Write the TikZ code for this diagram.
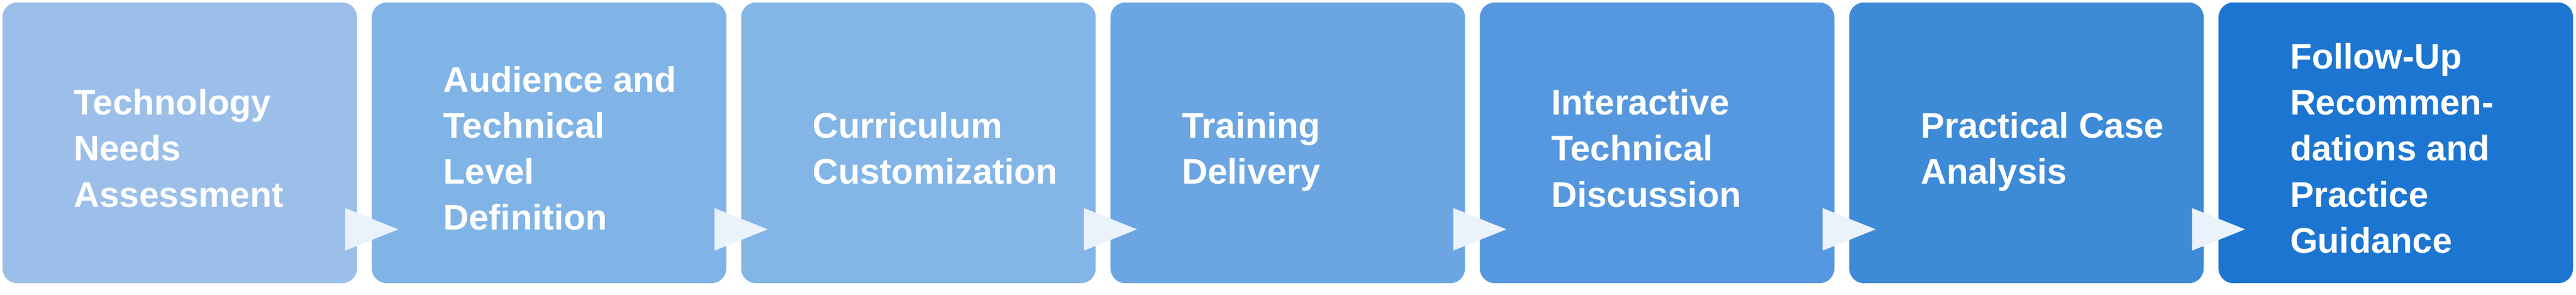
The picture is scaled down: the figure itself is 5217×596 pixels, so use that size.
\documentclass[tikz,border=0pt]{standalone}
\usepackage{fontspec}
\setmainfont{Liberation Sans}
\usetikzlibrary{calc}
\definecolor{c1}{RGB}{155,191,233}
\definecolor{c2}{RGB}{128,180,230}
\definecolor{c3}{RGB}{131,181,231}
\definecolor{c4}{RGB}{107,166,227}
\definecolor{c5}{RGB}{85,152,223}
\definecolor{c6}{RGB}{61,138,214}
\definecolor{c7}{RGB}{28,118,209}
\definecolor{arrowc}{RGB}{234,242,251}
\tikzset{
  stepbox/.style={rectangle, rounded corners=30pt, minimum width=718pt, minimum height=568pt, inner sep=0pt, draw=none},
  steplabel/.style={anchor=base west, align=left, inner sep=0pt, text=white, font=\fontsize{72}{93}\selectfont\bfseries},
  flowarrow/.style={fill=arrowc, draw=none}
}
\begin{document}
\begin{tikzpicture}[x=1pt, y=-1pt]
\useasboundingbox (0,0) rectangle (5217,596);
\fill[white] (0,0) rectangle (5217,596);
\foreach \i in {1,...,7}{
  \node[stepbox, fill=c\i] (b\i) at ({364+748*(\i-1)},289) {};
}
\node[steplabel] (t1) at ($(b1.west)+(145,129.5)$) {Technology\\Needs\\Assessment};
\node[steplabel] (t2) at ($(b2.west)+(145,176)$) {Audience and\\Technical\\Level\\Definition};
\node[steplabel] (t3) at ($(b3.west)+(145,83)$) {Curriculum\\Customization};
\node[steplabel] (t4) at ($(b4.west)+(145,83)$) {Training\\Delivery};
\node[steplabel] (t5) at ($(b5.west)+(145,129.5)$) {Interactive\\Technical\\Discussion};
\node[steplabel] (t6) at ($(b6.west)+(145,83)$) {Practical Case\\Analysis};
\node[steplabel] (t7) at ($(b7.west)+(145,222.5)$) {Follow-Up\\Recommen-\\dations and\\Practice\\Guidance};
\foreach \i [evaluate=\i as \j using int(\i+1)] in {1,...,6}{
  \fill[flowarrow] ($(b\i.east)+(-24,132)$) -- ($(b\j.west)+(54,175)$) -- ($(b\i.east)+(-24,218)$) -- cycle;
}
\end{tikzpicture}
\end{document}
